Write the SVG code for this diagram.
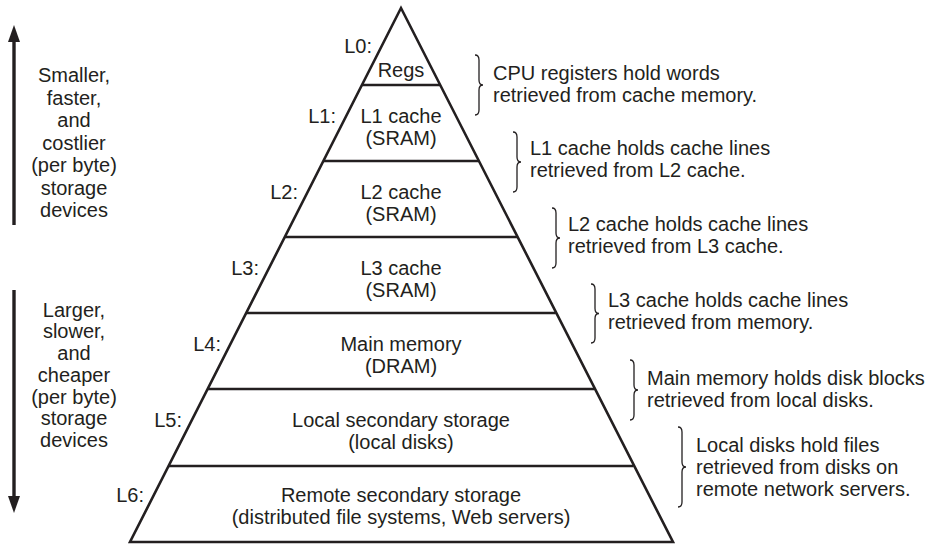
<svg xmlns="http://www.w3.org/2000/svg" width="937" height="544" viewBox="0 0 937 544">
<defs>
<style>
text{font-family:"Liberation Sans",Arial,sans-serif;font-size:20px;fill:#231f20}
.c{text-anchor:middle}
.e{text-anchor:end}
.ln{stroke:#231f20;stroke-width:2.6;fill:none}
.br{stroke:#231f20;stroke-width:1.3;fill:none}
.ar{stroke:#231f20;stroke-width:3.4;fill:none}
.ah{fill:#231f20}
</style>
</defs>
<rect width="937" height="544" fill="#fff"/>
<g id="pyramid">
<path class="ln" d="M401,8 L130,542 L673,542 Z" stroke-linejoin="miter"/>
<line class="ln" x1="362" y1="85" x2="440" y2="85"/>
<line class="ln" x1="323.4" y1="161" x2="478.6" y2="161"/>
<line class="ln" x1="284.9" y1="237" x2="517.1" y2="237"/>
<line class="ln" x1="246.3" y1="313" x2="555.7" y2="313"/>
<line class="ln" x1="207.7" y1="389" x2="594.3" y2="389"/>
<line class="ln" x1="168.6" y1="466" x2="633.4" y2="466"/>
</g>
<g id="L0"><text class="e" x="372" y="53">L0:</text><text class="c" x="401" y="77">Regs</text></g>
<g id="L1"><text class="e" x="336" y="123">L1:</text><text class="c" x="401" y="123">L1 cache</text><text class="c" x="401" y="145">(SRAM)</text></g>
<g id="L2"><text class="e" x="298" y="199">L2:</text><text class="c" x="401" y="199">L2 cache</text><text class="c" x="401" y="221">(SRAM)</text></g>
<g id="L3"><text class="e" x="259" y="275">L3:</text><text class="c" x="401" y="275">L3 cache</text><text class="c" x="401" y="297">(SRAM)</text></g>
<g id="L4"><text class="e" x="221" y="351">L4:</text><text class="c" x="401" y="351">Main memory</text><text class="c" x="401" y="373">(DRAM)</text></g>
<g id="L5"><text class="e" x="182" y="427">L5:</text><text class="c" x="401" y="427">Local secondary storage</text><text class="c" x="401" y="449">(local disks)</text></g>
<g id="L6"><text class="e" x="144" y="502">L6:</text><text class="c" x="401" y="502">Remote secondary storage</text><text class="c" x="401" y="524">(distributed file systems, Web servers)</text></g>
<g id="connectors">
<line class="ar" x1="14" y1="225" x2="14" y2="40"/>
<polygon class="ah" points="14,25 20,42 8,42"/>
<line class="ar" x1="14" y1="290" x2="14" y2="498"/>
<polygon class="ah" points="14,513 20,496 8,496"/>
<path class="br" d="M475,55 Q479,55 479,60 L479,80 Q479,85 483,85 Q479,85 479,90 L479,110 Q479,115 475,115"/>
<path class="br" d="M513,132 Q517,132 517,137 L517,157 Q517,162 521,162 Q517,162 517,167 L517,187 Q517,192 513,192"/>
<path class="br" d="M552,208 Q556,208 556,213 L556,233 Q556,238 560,238 Q556,238 556,243 L556,263 Q556,268 552,268"/>
<path class="br" d="M591,284 Q595,284 595,289 L595,308.5 Q595,313.5 599,313.5 Q595,313.5 595,318.5 L595,338 Q595,343 591,343"/>
<path class="br" d="M630,360 Q634,360 634,365 L634,385 Q634,390 638,390 Q634,390 634,395 L634,415 Q634,420 630,420"/>
<path class="br" d="M678,427 Q682,427 682,432 L682,462 Q682,467 686,467 Q682,467 682,472 L682,502 Q682,507 678,507"/>
</g>
<g id="up-label">
<text class="c" x="74" y="82">Smaller,</text>
<text class="c" x="74" y="104.5">faster,</text>
<text class="c" x="74" y="127">and</text>
<text class="c" x="74" y="149.5">costlier</text>
<text class="c" x="74" y="172">(per byte)</text>
<text class="c" x="74" y="194.5">storage</text>
<text class="c" x="74" y="217">devices</text>
</g>
<g id="down-label">
<text class="c" x="74" y="316.7">Larger,</text>
<text class="c" x="74" y="338.4">slower,</text>
<text class="c" x="74" y="360.1">and</text>
<text class="c" x="74" y="381.8">cheaper</text>
<text class="c" x="74" y="403.5">(per byte)</text>
<text class="c" x="74" y="425.2">storage</text>
<text class="c" x="74" y="446.9">devices</text>
</g>
<g id="note0"><text x="493" y="80">CPU registers hold words</text><text x="493" y="102">retrieved from cache memory.</text></g>
<g id="note1"><text x="530" y="155">L1 cache holds cache lines</text><text x="530" y="177">retrieved from L2 cache.</text></g>
<g id="note2"><text x="568" y="231">L2 cache holds cache lines</text><text x="568" y="253">retrieved from L3 cache.</text></g>
<g id="note3"><text x="608" y="307">L3 cache holds cache lines</text><text x="608" y="329">retrieved from memory.</text></g>
<g id="note4"><text x="647" y="385">Main memory holds disk blocks</text><text x="647" y="407">retrieved from local disks.</text></g>
<g id="note5"><text x="696" y="452">Local disks hold files</text><text x="696" y="474">retrieved from disks on</text><text x="696" y="496">remote network servers.</text></g>
</svg>
